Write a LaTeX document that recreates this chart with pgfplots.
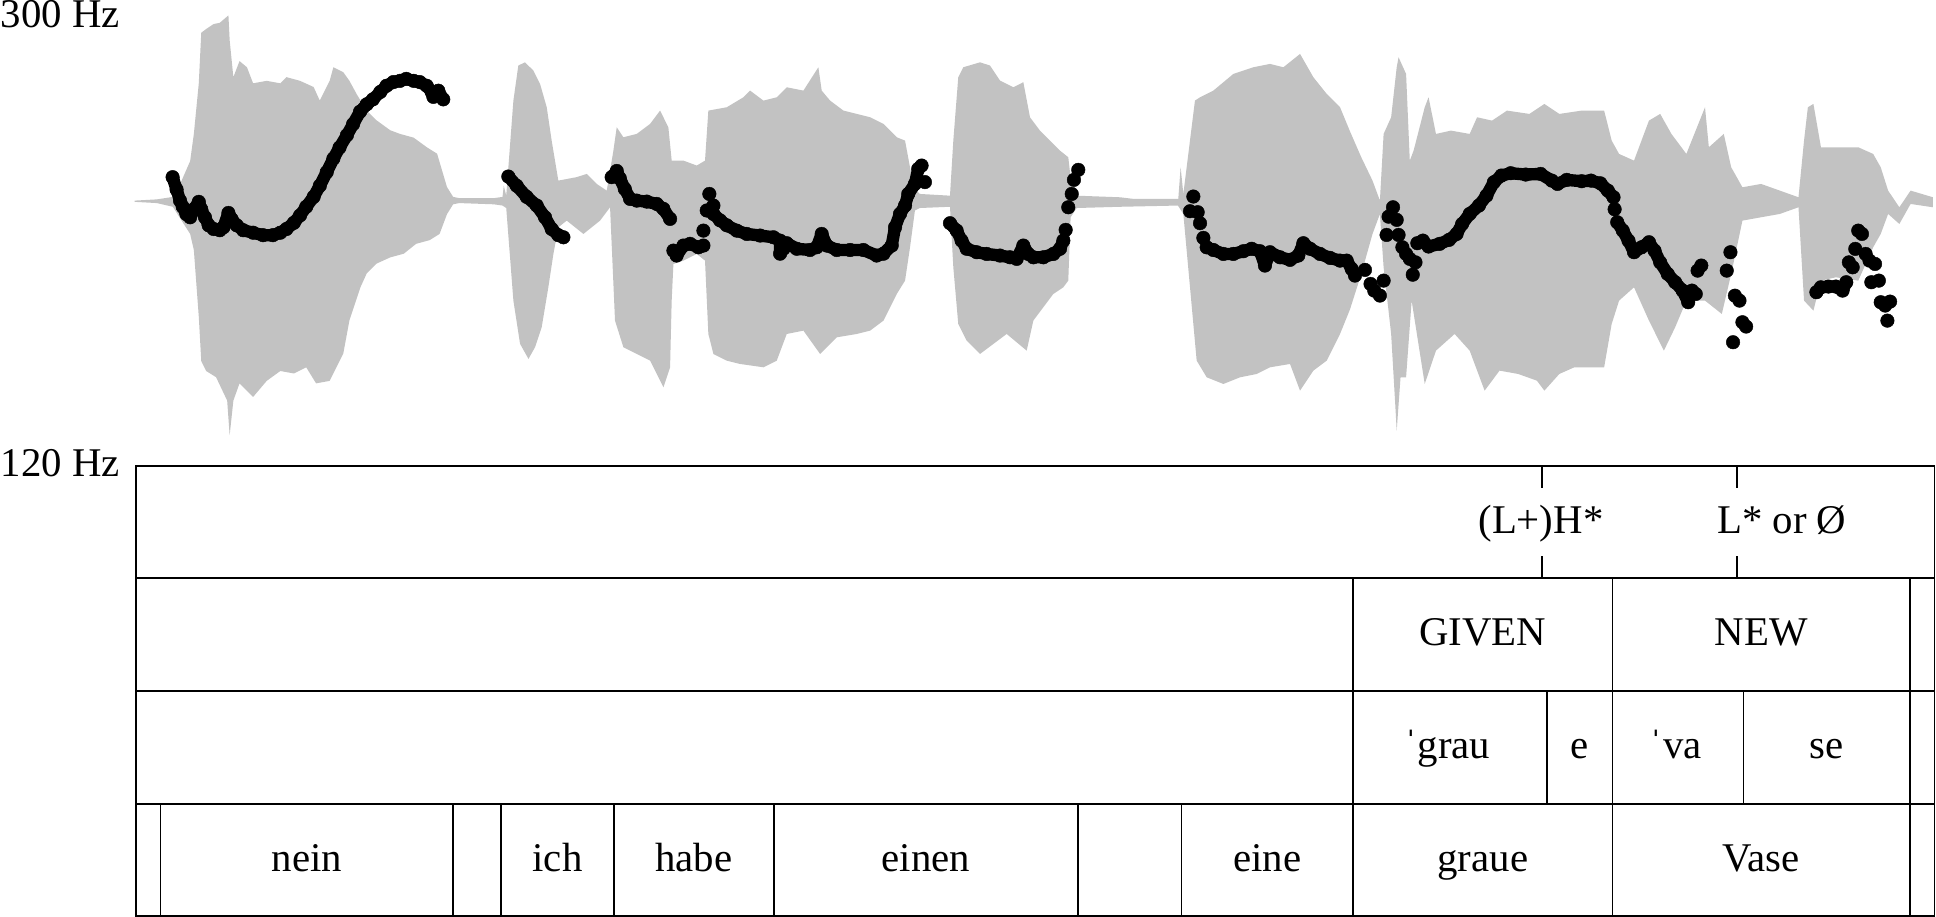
\documentclass[border=0pt]{standalone}
\usepackage{pgfplots}
\pgfplotsset{compat=1.18}
\usepgfplotslibrary{fillbetween}
\usepackage{fontspec}
\setmainfont{Liberation Serif}
\definecolor{wave}{RGB}{194,194,194}
\begin{document}
\begin{tikzpicture}[font=\fontsize{9.4}{11}\selectfont]
\begin{axis}[at={(0,0)}, anchor=south west, scale only axis,
  width=156.8mm, height=74.2mm, xmin=0, xmax=1568, ymin=0, ymax=742,
  y dir=reverse, hide axis, clip=false]
% waveform envelope
\addplot[name path=up, draw=none] coordinates {
(109,162)(127,161)(140,159)(147,146)(154,130)(157,108)(161,67)(163,26)(167,23)(173,19)(178,18)(185,12)(186,32)(189,62)(194,49)(200,54)(205,67)(216,65)(227,67)(232,62)(243,65)(254,70)(259,81)(267,65)(270,54)(278,58)(283,65)(289,76)(297,89)(305,97)(316,105)(324,108)(335,111)(346,119)(354,124)(362,151)(367,159)(372,160)(400,160)(407,159)(408,150)(410,158)(415.8,81)(419.8,52.6)(425.2,50)(432,56.7)(437.4,67.5)(442.8,86.4)(446.8,113.4)(449.5,129.6)(452.2,145.8)(467,143)(475.2,140.4)(483.3,148.5)(491.4,153.9)(496.8,121.5)(499.5,102.6)(504.9,110.7)(515.7,108)(526.5,99.9)(534.6,89.1)(541.3,102.6)(544,129.6)(553.5,129.6)(564.3,133.6)(571,129.6)(573.7,89.1)(588.6,86.4)(602.1,78.3)(607.5,72.9)(618.3,81)(629.1,78.3)(637.2,70.2)(650.7,72.9)(662.8,54)(665.5,72.9)(672.3,81)(683.1,89.1)(693.9,91.8)(704.7,94.5)(715.5,99.9)(726.3,110.7)(733,113.4)(737,135)(739.7,151.2)(745,156.6)(769.4,158)(772.1,113.4)(776.1,62.1)(780.2,54)(793.7,50)(801.8,52.6)(809.9,64.8)(820.7,70.2)(828.8,66.1)(834.2,94.5)(842.3,105.3)(850.4,113.4)(858.5,121.5)(865.2,126.9)(868,151.2)(872,158)(907,159.3)(918,160.6)(954.3,160.6)(956.2,135)(958.4,156.6)(967.8,81)(971.9,78.3)(982.7,72.9)(998.9,59.4)(1015.1,54)(1028.6,51.3)(1039.4,54)(1052.9,43.2)(1063.7,62.1)(1074.5,75.6)(1085.3,86.4)(1093.4,106)(1102.5,126.9)(1111.6,145.8)(1117.6,162)(1120.6,108)(1126.7,94.5)(1131.2,54)(1132.7,45.9)(1138.8,59.4)(1141.8,129.6)(1144.9,121.5)(1153.9,86.4)(1157,78.3)(1163,108)(1175.1,105.3)(1190.3,108)(1196.3,94.5)(1208.4,97.2)(1220.5,89.1)(1238.7,91.8)(1250.8,83.7)(1262.9,91.8)(1281,89.1)(1299.2,89.1)(1305.3,113.4)(1311.3,124.2)(1323.4,129.6)(1335.5,97.2)(1344.6,91.8)(1353.7,108)(1365.8,124.2)(1380.9,86.4)(1384,118.8)(1396.1,108)(1402.1,135)(1411.2,151.2)(1426.3,148.5)(1441.5,153.9)(1456.6,159.3)(1461.1,113.4)(1464.2,86.4)(1468.7,83.7)(1474.8,118.8)(1486.9,118.8)(1505,118.8)(1517.1,124.2)(1523.2,135)(1529.2,153.9)(1538.3,167.4)(1547.4,153.9)(1565.5,159.3)
};
\addplot[name path=lo, draw=none] coordinates {
(109,163)(127,164)(140,167)(147,178)(154,189)(157,202)(161,256)(163,292)(167,300)(175,305)(184,324)(186,352)(189,324)(194,310)(205,321)(216,308)(227,300)(238,302)(248,297)(256,310)(267,308)(278,286)(283,259)(292,232)(297,221)(305,213)(316,208)(327,205)(337,197)(348,194)(356,189)(362,173)(367,165)(372,164)(400,165)(407,166)(410,168)(415.8,243)(421.2,278)(428,290.2)(433.3,280.8)(438.7,264.6)(444.1,232.2)(448.2,205.2)(452.2,183.6)(459,178.2)(472.5,189)(486,178.2)(494.1,167.4)(498.1,259.2)(504.9,280.8)(515.7,286.2)(526.5,291.6)(537.3,313.2)(542.7,297)(544,243)(545.4,213.3)(553.5,210.6)(564.3,205.2)(571,210.6)(573.7,270)(577.8,286.2)(588.6,291.6)(599.4,294.3)(618.3,297)(629.1,291.6)(637.2,270)(650.7,267.3)(664.2,286.2)(677.7,272.7)(693.9,270)(704.7,267.3)(715.5,259.2)(726.3,237.6)(733,226.8)(737,200)(741,170)(745,168)(769.4,167)(772.1,216)(776.1,261.9)(782.9,275.4)(793.7,286.2)(804.5,278.1)(815.3,270)(831.5,283.5)(836.9,259.2)(845,248.4)(853.1,237.6)(861.2,232.2)(865.2,226.8)(867.1,175.5)(872,168)(907,167)(954,166)(958.4,172.8)(969.2,291.6)(977.3,305.1)(990.8,310.5)(1004.3,305.1)(1017.8,302.4)(1028.6,297)(1044.8,294.3)(1052.9,315.9)(1063.7,299.7)(1074.5,291.6)(1085.3,270)(1093.4,250)(1102.5,221.4)(1111.6,189)(1117.6,172.8)(1120.6,216)(1126.7,270)(1130.3,332)(1131.2,348.3)(1134.3,305.1)(1138.8,305.1)(1143.3,243)(1153.9,310.5)(1163,283.5)(1178.1,270)(1190.3,283.5)(1202.4,315.9)(1214.5,299.7)(1229.6,302.4)(1244.7,307.8)(1250.8,315.9)(1262.9,302.4)(1275,297)(1299.2,297)(1305.3,261.9)(1311.3,243)(1323.4,232.2)(1335.5,259.2)(1347.6,283.5)(1356.7,264.6)(1365.8,243)(1380.9,243)(1394.5,253.8)(1402.1,221.4)(1411.2,178.2)(1426.3,175.5)(1441.5,172.8)(1456.6,167.4)(1461.1,243)(1468.7,251.1)(1474.8,226.8)(1486.9,224.1)(1505,226.8)(1517.1,199.8)(1523.2,189)(1529.2,172.8)(1538.3,180.9)(1547.4,164.7)(1565.5,167.4)
};
\addplot[fill=wave, draw=none] fill between[of=up and lo];
% pitch: continuous stretches
\pgfplotsset{pl/.style={black, line width=1.0mm, line join=round, line cap=round, mark=*, mark size=0.55mm, mark options={line width=0.1pt, fill=black}},
             pm/.style={only marks, mark=*, mark size=0.55mm, mark options={line width=0.1pt, fill=black, draw=black}}}
\addplot[pl] coordinates {(139.8,143)(143,153)(145.8,162)(148,167)(151,173)(154,175.5)(157,169)(161,163)(163,169)(166,175.5)(169,182)(173,185)(178,186)(181,183.6)(185,172)(187.6,177)(191.7,182)(197,186)(205,188)(213,190)(221,190)(227,188)(232,185)(238,180)(243,174)(248,167)(254,159)(259,150)(264.6,139)(270,128)(275,119)(281,109)(286,100)(291.6,90)(297,84)(302,80)(308,74)(313,69)(318.6,66)(324,65)(329,63.4)(335,65)(340,66)(345.6,69)(349.6,74)(351,78)(355,73)(359,80)};
\addplot[pl] coordinates {(411.7,142.5)(418.5,150)(426.6,159)(434.7,166)(441.4,175.5)(446.8,185)(452.2,190)(456.3,191.7)};
\addplot[pl] coordinates {(495.4,143)(499.5,138)(502,144)(506,152.5)(510.3,160.6)(515.7,162)(523.8,162.8)(531.9,164.7)(537.3,168.7)(542.7,176.8)};
\addplot[pl] coordinates {(545.4,202.5)(548,206.5)(553.5,198.4)(558.9,197)(565.6,199.8)(569.7,198.4)};
\addplot[pl] coordinates {(577.8,172.8)(583.2,178)(588.6,182)(596.7,186.3)(604.8,189)(615.6,190.3)(626.4,191.7)(631.8,194.4)(631.8,205)(634.5,201)(637.2,196.5)(645.3,201)(656,202)(661.5,199.8)(665.5,189)(669.6,198.4)(677.7,202)(688.5,202)(699.3,202)(710,206.5)(715.5,205)(722.2,198.4)(724.9,183.6)(728.9,172.8)(733,166)(735.6,156.6)(741,148.5)(743.7,136.3)(746.4,133.6)};
\addplot[pl] coordinates {(769.4,180.3)(774.8,186.3)(778.8,194.4)(782.9,201)(791,203.8)(799.1,205.2)(809.9,206.5)(818,207.9)(823.4,209.2)(828.8,198.4)(832.8,205.2)(836.9,207.9)(845,207.9)(853.1,205.2)(858.5,201)(861.2,194.4)};
\addplot[pl] coordinates {(977.3,199.8)(982.7,202)(990.8,205.2)(998.9,205.2)(1007,203)(1013.7,201)(1020.5,203)(1024.5,214.6)(1028.6,203.8)(1036.7,207.9)(1044.8,210)(1051.5,206.5)(1055.6,196.5)(1061,201)(1069.1,205.2)(1077.2,208.4)(1085.3,210.6)(1090.7,210.6)(1094.7,217.3)(1097.4,222.7)};
\addplot[pl] coordinates {(1147.9,196.5)(1152.4,194.4)(1157,199.2)(1166,197)(1173.6,193.8)(1179.7,189)(1184.2,180.9)(1190.3,172.8)(1197.8,166)(1203.9,158)(1209.9,147.1)(1216,141.7)(1223.5,139.8)(1235.7,140.9)(1247.8,140.4)(1256.8,145.8)(1261.4,148.5)(1268.9,145.2)(1281,146.3)(1288.6,145.8)(1296.2,148)(1302.2,153.9)(1306.8,159.3)};
\addplot[pl] coordinates {(1309.8,179.5)(1314.3,186.3)(1318.9,194.4)(1323.4,203.8)(1329.5,199.8)(1335.5,195.7)(1340,202.5)(1344.6,212)(1350.7,221.4)(1356.7,228.1)(1362.8,234.9)(1367.3,244.3)};
\addplot[pl] coordinates {(1471.1,236.2)(1474.8,232.2)(1480.8,231.6)(1486.9,231.6)(1492.3,234.9)(1495.3,228.1)};
% pitch: separate points
\addplot[pm] coordinates {(569.7,186.3)(572.4,170)(574.5,156.6)(577.8,166)(749.1,147)
(863.1,185.7)(865.2,167.4)(868,156.6)(869.8,145.2)(873.3,137.1)
(966.5,158.7)(963.8,170.6)(970,171.4)(971.9,180.3)(974.6,192.2)
(1105.5,218.1)(1110,229.5)(1113,234.9)(1117.6,238.9)(1120.6,226.8)
(1123,189.8)(1124.6,175)(1128.2,167.4)(1131.2,177.6)(1132.7,189.8)(1135.8,199.8)(1138.8,205.2)(1141.8,209.2)(1144.2,222)(1146.4,212)
(1307.7,169)(1370.3,234.9)(1373.4,237.6)(1374.9,218.7)(1377.9,214.6)
(1401.5,203.8)(1398.5,218.7)(1405.1,239)(1408.8,243)(1403.6,276.7)(1411.2,260.5)(1414.2,264)
(1497.4,212)(1500.5,216)(1502.6,201.1)(1505,186.3)(1508,189)(1511,205.2)(1514.1,210.6)(1518.6,213.3)(1515.6,228.1)(1521.7,226.8)(1523.2,244.3)(1526.8,247)(1530.8,243.8)(1528.6,259.2)};
% axis labels
\node[anchor=base west, inner sep=0pt] at (axis cs:0,21.5) {300 Hz};
\node[anchor=base west, inner sep=0pt] at (axis cs:0,385.5) {120 Hz};
% tiers
\draw[line width=0.4pt] (axis cs:110,377) rectangle (axis cs:1566.8,741.2);
\draw[line width=0.4pt] (axis cs:110,467.5) -- (axis cs:1566.8,467.5);
\draw[line width=0.4pt] (axis cs:110,559) -- (axis cs:1566.8,559);
\draw[line width=0.4pt] (axis cs:110,650.5) -- (axis cs:1566.8,650.5);
\pgfplotsinvokeforeach{1249,1407}{
  \draw[line width=0.4pt] (axis cs:#1,377) -- (axis cs:#1,394.5);
  \draw[line width=0.4pt] (axis cs:#1,450) -- (axis cs:#1,467.5);
}
\pgfplotsinvokeforeach{1096,1306,1547}{\draw[line width=0.4pt] (axis cs:#1,467.5) -- (axis cs:#1,559);}
\pgfplotsinvokeforeach{1096,1253,1306,1412,1547}{\draw[line width=0.4pt] (axis cs:#1,559) -- (axis cs:#1,650.5);}
\pgfplotsinvokeforeach{130,367,406,497,627,873,957,1096,1306,1547}{\draw[line width=0.4pt] (axis cs:#1,650.5) -- (axis cs:#1,741.2);}
\node[anchor=base, inner sep=0pt] at (axis cs:1248,432) {(L+)H*};
\node[anchor=base west, inner sep=0pt] at (axis cs:1390,432) {L* or Ø};
\node[anchor=base, inner sep=0pt] at (axis cs:1201,522.5) {GIVEN};
\node[anchor=base, inner sep=0pt] at (axis cs:1426.5,522.5) {NEW};
\node[anchor=base, inner sep=0pt] at (axis cs:1172,614) {ˈgrau};
\node[anchor=base, inner sep=0pt] at (axis cs:1279.5,614) {e};
\node[anchor=base, inner sep=0pt] at (axis cs:1357,614) {ˈva};
\node[anchor=base, inner sep=0pt] at (axis cs:1479.5,614) {se};
\node[anchor=base, inner sep=0pt] at (axis cs:248.5,705) {nein};
\node[anchor=base, inner sep=0pt] at (axis cs:451.5,705) {ich};
\node[anchor=base, inner sep=0pt] at (axis cs:562,705) {habe};
\node[anchor=base, inner sep=0pt] at (axis cs:750,705) {einen};
\node[anchor=base, inner sep=0pt] at (axis cs:1026.5,705) {eine};
\node[anchor=base, inner sep=0pt] at (axis cs:1201,705) {graue};
\node[anchor=base, inner sep=0pt] at (axis cs:1426.5,705) {Vase};
\end{axis}
\path[use as bounding box] (0,0) rectangle (156.8mm,74.2mm);
\end{tikzpicture}
\end{document}
